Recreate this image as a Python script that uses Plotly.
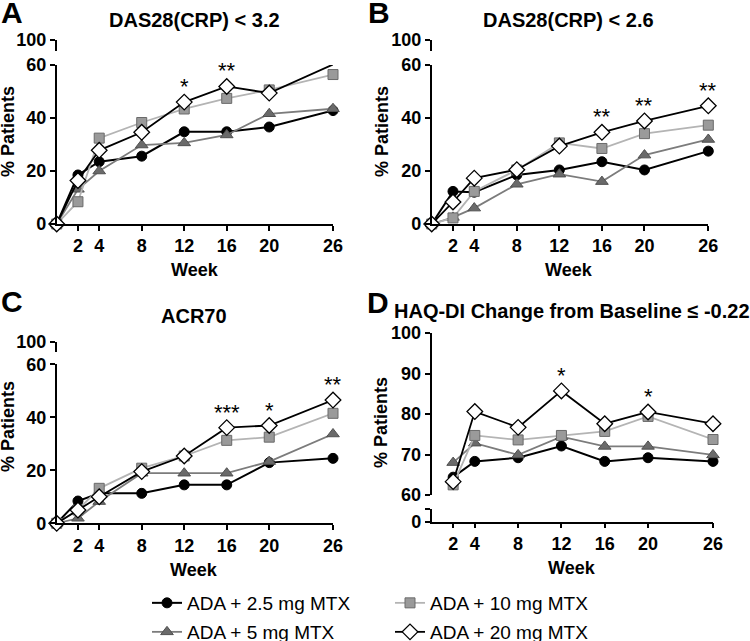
import plotly.graph_objects as go

W, H = 750, 641

weeks = [0, 2, 4, 8, 12, 16, 20, 26]
weeks_d = [2, 4, 8, 12, 16, 20, 26]
xtick_vals = [2, 4, 8, 12, 16, 20, 26]

series_names = ["ADA + 2.5 mg MTX", "ADA + 5 mg MTX", "ADA + 10 mg MTX", "ADA + 20 mg MTX"]

# Panel A: DAS28(CRP) < 3.2
a_25 = [0, 18.5, 23.5, 25.6, 34.8, 34.8, 36.6, 42.8]
a_5 = [0, 13.1, 20.0, 29.8, 30.6, 33.6, 41.6, 43.5]
a_10 = [0, 8.4, 32.4, 38.3, 43.4, 47.4, 50.6, 56.4]
a_20 = [0, 16.4, 27.8, 34.6, 46.0, 51.9, 49.4, 60.2]
# Panel B: DAS28(CRP) < 2.6
b_25 = [0, 12.3, 12.0, 18.5, 20.4, 23.5, 20.4, 27.5]
b_5 = [0, 2.5, 6.0, 15.0, 18.8, 16.0, 26.0, 31.9]
b_10 = [0, 2.3, 12.3, 20.4, 30.6, 28.5, 34.1, 37.3]
b_20 = [0, 8.3, 17.3, 20.5, 29.4, 34.6, 38.9, 44.6]
# Panel C: ACR70
c_25 = [0, 8.4, 11.3, 11.3, 14.5, 14.5, 22.9, 24.5]
c_5 = [0, 1.9, 8.2, 18.9, 18.9, 18.9, 23.3, 33.7]
c_10 = [0, 5.0, 13.2, 20.8, 25.4, 31.3, 32.5, 41.5]
c_20 = [0, 5.0, 10.0, 19.5, 25.4, 36.1, 36.9, 46.5]
# Panel D: HAQ-DI change from baseline <= -0.22
d_25 = [64.4, 68.3, 69.2, 72.1, 68.3, 69.2, 68.3]
d_5 = [68.0, 72.8, 69.9, 74.4, 72.0, 72.0, 69.9]
d_10 = [62.5, 74.7, 73.6, 74.7, 75.7, 79.4, 73.7]
d_20 = [63.3, 80.6, 76.7, 85.7, 77.6, 80.5, 77.6]

# Significance markers
stars_a_weeks = [12, 16, 26]; stars_a_text = ["*", "**", "**"]
stars_b_weeks = [16, 20, 26]; stars_b_text = ["**", "**", "**"]
stars_c_weeks = [16, 20, 26]; stars_c_text = ["***", "*", "**"]
stars_d_weeks = [12, 20]; stars_d_text = ["*", "*"]

titles = ["DAS28(CRP) < 3.2", "DAS28(CRP) < 2.6", "ACR70", "HAQ-DI Change from Baseline \u2264 -0.22"]
letters = ["A", "B", "C", "D"]

FONT = "Liberation Sans, Arial, sans-serif"

styles = [
    dict(symbol="circle", size=10, color="black", mline="black", mw=1, lcolor="black", lw=2),
    dict(symbol="triangle-up", size=11, color="#6a6a6a", mline="#505050", mw=1, lcolor="#7c7c7c", lw=1.8),
    dict(symbol="square", size=10, color="#9a9a9a", mline="#6a6a6a", mw=1, lcolor="#b4b4b4", lw=1.8),
    dict(symbol="diamond", size=12, color="white", mline="black", mw=1.3, lcolor="black", lw=1.8),
]
legend_ids = ["legend", "legend2", "legend3", "legend4"]

fig = go.Figure()

def px_x(p):
    return p / W

def px_y(p):
    return 1 - p / H

panels = [
    dict(x="x", y="y", brk="y5", data=[a_25, a_5, a_10, a_20], wk=weeks, sw=stars_a_weeks, st=stars_a_text),
    dict(x="x2", y="y2", brk="y6", data=[b_25, b_5, b_10, b_20], wk=weeks, sw=stars_b_weeks, st=stars_b_text),
    dict(x="x3", y="y3", brk="y7", data=[c_25, c_5, c_10, c_20], wk=weeks, sw=stars_c_weeks, st=stars_c_text),
    dict(x="x4", y="y4", brk="y8", data=[d_25, d_5, d_10, d_20], wk=weeks_d, sw=stars_d_weeks, st=stars_d_text),
]

for pi, p in enumerate(panels):
    # empty trace so that the axis-break segment subplot exists
    fig.add_trace(go.Scatter(x=[], y=[], xaxis=p["x"], yaxis=p["brk"], mode="markers",
                             showlegend=False, hoverinfo="skip"))
    for si, vals in enumerate(p["data"]):
        s = styles[si]
        fig.add_trace(go.Scatter(
            x=p["wk"], y=vals, xaxis=p["x"], yaxis=p["y"],
            mode="lines+markers", name=series_names[si],
            legend=legend_ids[si], showlegend=(pi == 0),
            line=dict(color=s["lcolor"], width=s["lw"]),
            marker=dict(symbol=s["symbol"], size=s["size"], color=s["color"],
                        line=dict(color=s["mline"], width=s["mw"])),
            cliponaxis=False,
        ))
    for wk, txt in zip(p["sw"], p["st"]):
        idx = p["wk"].index(wk)
        top = max(v[idx] for v in p["data"])
        fig.add_annotation(x=wk, y=top, xref=p["x"], yref=p["y"], text=txt,
                           showarrow=False, yanchor="bottom", yshift=1,
                           font=dict(family=FONT, size=22, color="black"))

tickfont = dict(family=FONT, size=18, color="black", weight="bold")
axis_common = dict(showline=True, linecolor="black", linewidth=1.5, ticks="outside",
                   ticklen=5, tickwidth=1.5, tickcolor="black", showgrid=False,
                   zeroline=False, tickfont=tickfont, automargin=False, fixedrange=True)

xa = [px_x(56.7), px_x(333)]
xb = [px_x(431.7), px_x(708.3)]
xd = [px_x(431.5), px_x(713)]

layout = dict(
    width=W, height=H, margin=dict(l=0, r=0, t=0, b=0, autoexpand=False),
    paper_bgcolor="white", plot_bgcolor="white",
    font=dict(family=FONT, color="black"),
    showlegend=True,
)

layout["xaxis"] = dict(domain=xa, range=[0, 26], anchor="y", tickvals=xtick_vals, **axis_common)
layout["yaxis"] = dict(domain=[px_y(224), px_y(65)], range=[0, 60], anchor="x", tickvals=[0, 20, 40, 60], **axis_common)
layout["yaxis5"] = dict(domain=[px_y(51), px_y(40)], range=[96, 100], anchor="x", tickvals=[100], **axis_common)

layout["xaxis2"] = dict(domain=xb, range=[0, 26], anchor="y2", tickvals=xtick_vals, **axis_common)
layout["yaxis2"] = dict(domain=[px_y(224), px_y(65)], range=[0, 60], anchor="x2", tickvals=[0, 20, 40, 60], **axis_common)
layout["yaxis6"] = dict(domain=[px_y(51), px_y(40)], range=[96, 100], anchor="x2", tickvals=[100], **axis_common)

layout["xaxis3"] = dict(domain=xa, range=[0, 26], anchor="y3", tickvals=xtick_vals, **axis_common)
layout["yaxis3"] = dict(domain=[px_y(523.3), px_y(364.3)], range=[0, 60], anchor="x3", tickvals=[0, 20, 40, 60], **axis_common)
layout["yaxis7"] = dict(domain=[px_y(352), px_y(341.7)], range=[96, 100], anchor="x3", tickvals=[100], **axis_common)

layout["xaxis4"] = dict(domain=xd, range=[0, 26], anchor="y8", tickvals=xtick_vals, **axis_common)
layout["yaxis4"] = dict(domain=[px_y(495), px_y(333)], range=[60, 100], anchor="x4", tickvals=[60, 70, 80, 90, 100], **axis_common)
layout["yaxis8"] = dict(domain=[px_y(521.7), px_y(509)], range=[0, 1], anchor="x4", tickvals=[0, 1], ticktext=["0", ""], **axis_common)

legend_font = dict(family=FONT, size=19, color="black")
legend_pos = {"legend": (147, 603), "legend2": (147, 632), "legend3": (390, 603), "legend4": (390, 632)}
for lid, (lx, ly) in legend_pos.items():
    layout[lid] = dict(x=px_x(lx), y=px_y(ly), xanchor="left", yanchor="middle", font=legend_font,
                       bgcolor="rgba(0,0,0,0)", tracegroupgap=0)
fig.update_layout(**layout)

ann = []
title_pos = [(194, 20), (568, 20), (194, 316), (572, 311)]
for t, (tx, ty) in zip(titles, title_pos):
    ann.append(dict(x=px_x(tx), y=px_y(ty), xref="paper", yref="paper", text="<b>%s</b>" % t,
                    showarrow=False, xanchor="center", yanchor="middle",
                    font=dict(family=FONT, size=20, color="black")))
letter_pos = [(12, 13), (379, 13), (12, 301), (378, 302)]
for t, (tx, ty) in zip(letters, letter_pos):
    ann.append(dict(x=px_x(tx), y=px_y(ty), xref="paper", yref="paper", text="<b>%s</b>" % t,
                    showarrow=False, xanchor="center", yanchor="middle",
                    font=dict(family=FONT, size=30, color="black")))
week_pos = [(195, 270), (569, 270), (194, 570), (572, 568)]
for tx, ty in week_pos:
    ann.append(dict(x=px_x(tx), y=px_y(ty), xref="paper", yref="paper", text="<b>Week</b>",
                    showarrow=False, xanchor="center", yanchor="middle",
                    font=dict(family=FONT, size=18, color="black")))
ylab_pos = [(8, 132), (382, 132), (8, 427), (381, 423)]
for tx, ty in ylab_pos:
    ann.append(dict(x=px_x(tx), y=px_y(ty), xref="paper", yref="paper", text="<b>% Patients</b>",
                    showarrow=False, xanchor="center", yanchor="middle", textangle=-90,
                    font=dict(family=FONT, size=18, color="black")))
for a in ann:
    fig.add_annotation(**a)

fig.write_html("out.html", config={"displayModeBar": False},
               post_script="document.body.style.margin='0';document.body.style.overflow='hidden';")
